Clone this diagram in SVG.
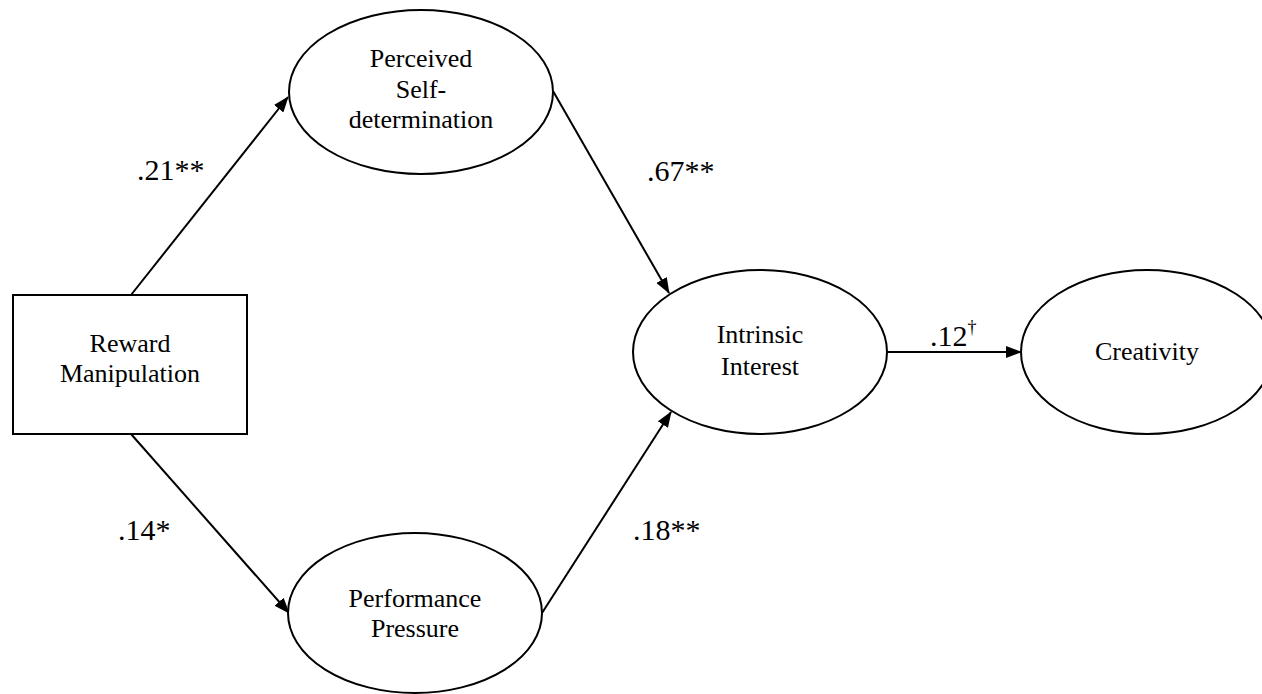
<svg xmlns="http://www.w3.org/2000/svg" width="1262" height="694" viewBox="0 0 1262 694">
<style>
.node{fill:#fff;stroke:#000;stroke-width:2}
.t{font-family:"Liberation Serif","Times New Roman",serif;font-size:26px;fill:#000;text-anchor:middle}
.lbl{font-family:"Liberation Serif","Times New Roman",serif;font-size:30px;fill:#000}
.sup{font-size:18px}
.edge{stroke:#000;stroke-width:2;fill:none;marker-end:url(#arr)}
</style>
<defs>
<marker id="arr" markerUnits="userSpaceOnUse" markerWidth="16" markerHeight="12" refX="15" refY="6" orient="auto">
<path d="M0,0 L16,6 L0,12 Z" fill="#000"/>
</marker>
</defs>
<rect width="1262" height="694" fill="#fff"/>
<g id="connectors">
<line class="edge" x1="131" y1="295" x2="288" y2="97"/>
<line class="edge" x1="131" y1="434" x2="289" y2="613"/>
<line class="edge" x1="553" y1="91" x2="669" y2="293"/>
<line class="edge" x1="542" y1="613" x2="671" y2="412"/>
<line class="edge" x1="887" y1="352" x2="1021" y2="352"/>
</g>
<g id="reward">
<rect class="node" x="13" y="295" width="234" height="139"/>
<text class="t" x="130" y="352">Reward</text>
<text class="t" x="130" y="382">Manipulation</text>
</g>
<g id="perceived">
<ellipse class="node" cx="421" cy="92" rx="132" ry="82"/>
<text class="t" x="421" y="67">Perceived</text>
<text class="t" x="421" y="98">Self-</text>
<text class="t" x="421" y="128">determination</text>
</g>
<g id="performance">
<ellipse class="node" cx="415" cy="613" rx="127" ry="80"/>
<text class="t" x="415" y="607">Performance</text>
<text class="t" x="415" y="637">Pressure</text>
</g>
<g id="intrinsic">
<ellipse class="node" cx="760" cy="352" rx="127" ry="82"/>
<text class="t" x="760" y="343">Intrinsic</text>
<text class="t" x="760" y="375">Interest</text>
</g>
<g id="creativity">
<ellipse class="node" cx="1147" cy="352" rx="126" ry="82"/>
<text class="t" x="1147" y="360">Creativity</text>
</g>
<g id="labels">
<text class="lbl" x="137" y="180">.21**</text>
<text class="lbl" x="118" y="540">.14*</text>
<text class="lbl" x="647" y="181">.67**</text>
<text class="lbl" x="633" y="540">.18**</text>
<text class="lbl" x="930" y="346">.12<tspan class="sup" dy="-13">†</tspan></text>
</g>
</svg>
